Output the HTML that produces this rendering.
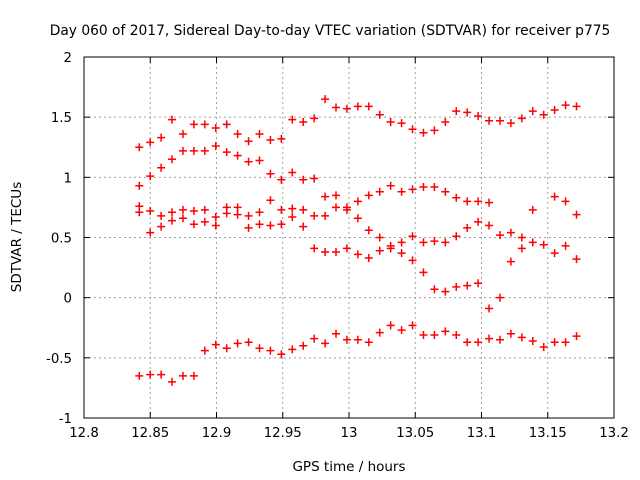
<!DOCTYPE html>
<html><head><meta charset="utf-8"><style>
body{margin:0;background:#fff}
svg{display:block;font-family:"DejaVu Sans","Liberation Sans",sans-serif}
</style></head><body>
<svg id="chart" width="640" height="480" viewBox="0 0 640 480">
<text x="330" y="35" font-size="13.8" text-anchor="middle">Day 060 of 2017, Sidereal Day-to-day VTEC variation (SDTVAR) for receiver p775</text>
<text transform="translate(21,237) rotate(-90)" font-size="13.5" text-anchor="middle">SDTVAR / TECUs</text>
<text x="349" y="471" font-size="13.5" text-anchor="middle">GPS time / hours</text>
<g id="grid"></g>
<g id="ticks"></g>
<rect x="84" y="57" width="530" height="361" fill="none" stroke="#000" stroke-width="1"/>
<g id="marks"></g>
</svg>
<script>
const xTicks=[12.8,12.85,12.9,12.95,13,13.05,13.1,13.15,13.2];
const xTickLabels=["12.8","12.85","12.9","12.95","13","13.05","13.1","13.15","13.2"];
const yTicks=[-1,-0.5,0,0.5,1,1.5,2];
const yTickLabels=["-1","-0.5","0","0.5","1","1.5","2"];
const timeStart=12.8417;
const timeStep=0.00825;
const seriesA=[1.25,1.29,1.33,1.48,1.36,1.44,1.44,1.41,1.44,1.36,1.30,1.36,1.31,1.32,1.48,1.46,1.49,1.65,1.58,1.57,1.59,1.59,1.52,1.46,1.45,1.40,1.37,1.39,1.46,1.55,1.54,1.51,1.47,1.47,1.45,1.49,1.55,1.52,1.56,1.60,1.59];
const seriesB=[0.93,1.01,1.08,1.15,1.22,1.22,1.22,1.26,1.21,1.18,1.13,1.14,1.03,0.98,1.04,0.98,0.99,0.84,0.85,0.75,0.80,0.85,0.88,0.93,0.88,0.90,0.92,0.92,0.88,0.83,0.80,0.80,0.79,null,null,null,0.73,null,0.84,0.80,0.69];
const seriesC=[0.76,0.72,0.68,0.71,0.73,0.72,0.73,0.67,0.75,0.75,0.68,0.71,0.81,0.73,0.74,0.73,0.68,0.68,0.75,0.73,0.66,0.56,0.50,0.43,0.46,0.51,0.46,0.47,0.46,0.51,0.58,0.63,0.60,0.52,0.54,0.50,0.46,0.44,0.37,0.43,0.32];
const seriesD=[0.71,0.54,0.59,0.64,0.66,0.61,0.63,0.60,0.70,0.69,0.58,0.61,0.60,0.61,0.67,0.59,0.41,0.38,0.38,0.41,0.36,0.33,0.39,0.41,0.37,0.31,0.21,0.07,0.05,0.09,0.10,0.12,-0.09,0.00,0.30,0.41,null,null,null,null,null];
const seriesE=[-0.65,-0.64,-0.64,-0.70,-0.65,-0.65,-0.44,-0.39,-0.42,-0.38,-0.37,-0.42,-0.44,-0.47,-0.43,-0.40,-0.34,-0.38,-0.30,-0.35,-0.35,-0.37,-0.29,-0.23,-0.27,-0.23,-0.31,-0.31,-0.28,-0.31,-0.37,-0.37,-0.34,-0.35,-0.30,-0.33,-0.36,-0.41,-0.37,-0.37,-0.32];

const NS="http://www.w3.org/2000/svg";
const L=84,R=614,T=57,B=418;
function xs(v){return L+(v-12.8)/(13.2-12.8)*(R-L);}
function ys(v){return B-(v+1)/3*(B-T);}
function mk(tag,attrs,parent){const e=document.createElementNS(NS,tag);for(const k in attrs)e.setAttribute(k,attrs[k]);parent.appendChild(e);return e;}
const grid=document.getElementById('grid'),ticks=document.getElementById('ticks'),marks=document.getElementById('marks');
xTicks.forEach((v,i)=>{
  const x=xs(v);
  if(i>0&&i<xTicks.length-1){const g=mk('line',{x1:x,x2:x,y1:T,y2:B,stroke:'#a0a0a0','stroke-dasharray':'2,3'},grid);
  
  }
  const t=mk('text',{x:x,y:B+19,'font-size':13.3,'text-anchor':'middle'},ticks);
  
  
  t.textContent=xTickLabels[i];
  mk('line',{x1:x,x2:x,y1:B,y2:B-6,stroke:'#000'},ticks);
  mk('line',{x1:x,x2:x,y1:T,y2:T+6,stroke:'#000'},ticks);
});
yTicks.forEach((v,i)=>{
  const y=ys(v);
  if(i>0&&i<yTicks.length-1){const g=mk('line',{x1:L,x2:R,y1:y,y2:y,stroke:'#a0a0a0','stroke-dasharray':'2,3'},grid);
  
  }
  const t=mk('text',{x:L-12,y:y+5,'font-size':13.3,'text-anchor':'end'},ticks);
  
  
  t.textContent=yTickLabels[i];
  mk('line',{x1:L,x2:L+6,y1:y,y2:y,stroke:'#000'},ticks);
  mk('line',{x1:R,x2:R-6,y1:y,y2:y,stroke:'#000'},ticks);
});
[seriesA,seriesB,seriesC,seriesD,seriesE].forEach(s=>{
  s.forEach((v,i)=>{
    if(v===null)return;
    const x=xs(timeStart+i*timeStep),y=ys(v);
    const p=mk('path',{d:`M${x-4},${y}H${x+4}M${x},${y-4}V${y+4}`,stroke:'#ff0000','stroke-width':1.5,fill:'none'},marks);
    
    
  });
});
</script>
</body></html>
